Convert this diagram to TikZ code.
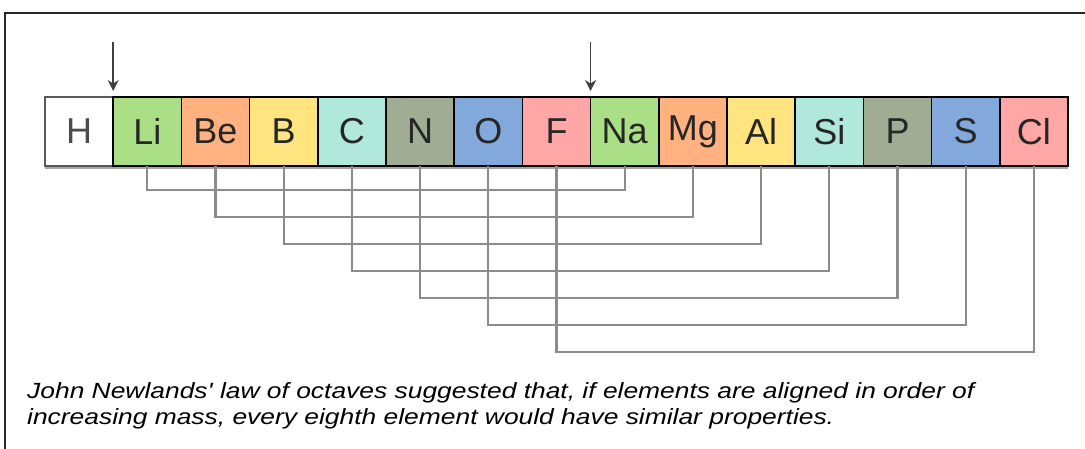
\documentclass[tikz,border=0pt]{standalone}
\usepackage{fontspec}
\setmainfont{Liberation Sans}
\usetikzlibrary{arrows.meta, positioning, calc}

\definecolor{nhomA}{RGB}{170,223,133}
\definecolor{nhomB}{RGB}{255,178,128}
\definecolor{nhomC}{RGB}{255,228,128}
\definecolor{nhomD}{RGB}{176,232,220}
\definecolor{nhomE}{RGB}{160,172,148}
\definecolor{nhomF}{RGB}{130,168,220}
\definecolor{nhomG}{RGB}{255,166,166}
\definecolor{noi}{RGB}{140,140,140}

\tikzset{
    ocell/.style={draw=black, line width=1.6pt, minimum width=68.2pt, minimum height=69pt,
        inner sep=0pt, outer sep=0pt, font=\fontsize{36}{36}\selectfont, text=black!85},
    noiday/.style={draw=noi, line width=2.2pt},
    dongchu/.style={anchor=base west, inner sep=0pt, font=\fontsize{22}{22}\selectfont\itshape},
}

\begin{document}
\begin{tikzpicture}[>=Stealth, x=1pt, y=-1pt]
    \useasboundingbox (0,0) rectangle (1085,449);
    % Khung ngoài
    \draw[line width=1.8pt, black!85] (5,449) -- (5,13) -- (1085,13);

    % Các ô nguyên tố
    \node[ocell, fill=white, draw=black!65, text=black!70, anchor=north west] (H) at (45,97) {H};
    \node[ocell, fill=nhomA, right=0pt of H] (Li) {Li};
    \node[ocell, fill=nhomB, right=0pt of Li] (Be) {Be};
    \node[ocell, fill=nhomC, right=0pt of Be] (B) {B};
    \node[ocell, fill=nhomD, right=0pt of B] (C) {C};
    \node[ocell, fill=nhomE, right=0pt of C] (N) {N};
    \node[ocell, fill=nhomF, right=0pt of N] (O) {O};
    \node[ocell, fill=nhomG, right=0pt of O] (F) {F};
    \node[ocell, fill=nhomA, right=0pt of F] (Na) {Na};
    \node[ocell, fill=nhomB, right=0pt of Na] (Mg) {Mg};
    \node[ocell, fill=nhomC, right=0pt of Mg] (Al) {Al};
    \node[ocell, fill=nhomD, right=0pt of Al] (Si) {Si};
    \node[ocell, fill=nhomE, right=0pt of Si] (P) {P};
    \node[ocell, fill=nhomF, right=0pt of P] (S) {S};
    \node[ocell, fill=nhomG, right=0pt of S] (Cl) {Cl};

    % Bóng xám dưới hàng ô
    \draw[line width=2pt, black!35] ($(H.south west)+(0,2)$) -- ($(Cl.south east)+(0,2)$);

    % Mũi tên chỉ đầu quãng tám
    \coordinate (tA) at ($(Li.north west)+(0,-55)$);
    \coordinate (tB) at ($(Na.north west)+(0,-55)$);
    \draw[->, line width=1.6pt, black!75, >={Stealth[length=11pt, width=11pt]}] (tA) -- ($(Li.north west)+(0,-6)$);
    \draw[->, line width=1.6pt, black!75, >={Stealth[length=11pt, width=11pt]}] (tB) -- ($(Na.north west)+(0,-6)$);

    % Đường nối các nguyên tố cách nhau tám ô
    \draw[noiday] (Li.south) -- ++(0,24) -| (Na.south);
    \draw[noiday] (Be.south) -- ++(0,51) -| (Mg.south);
    \draw[noiday] (B.south) -- ++(0,78) -| (Al.south);
    \draw[noiday] (C.south) -- ++(0,105) -| (Si.south);
    \draw[noiday] (N.south) -- ++(0,132) -| (P.south);
    \draw[noiday] (O.south) -- ++(0,159) -| (S.south);
    \draw[noiday] (F.south) -- ++(0,186) -| (Cl.south);

    % Chú thích
    \node[dongchu] (chuthichA) at (27,398)
        {\scalebox{1.2}[1]{John Newlands\textquotesingle{} law of octaves suggested that, if elements are aligned in order of}};
    \node[dongchu] (chuthichB) at (27,424)
        {\scalebox{1.2}[1]{increasing mass, every eighth element would have similar properties.}};
\end{tikzpicture}
\end{document}
